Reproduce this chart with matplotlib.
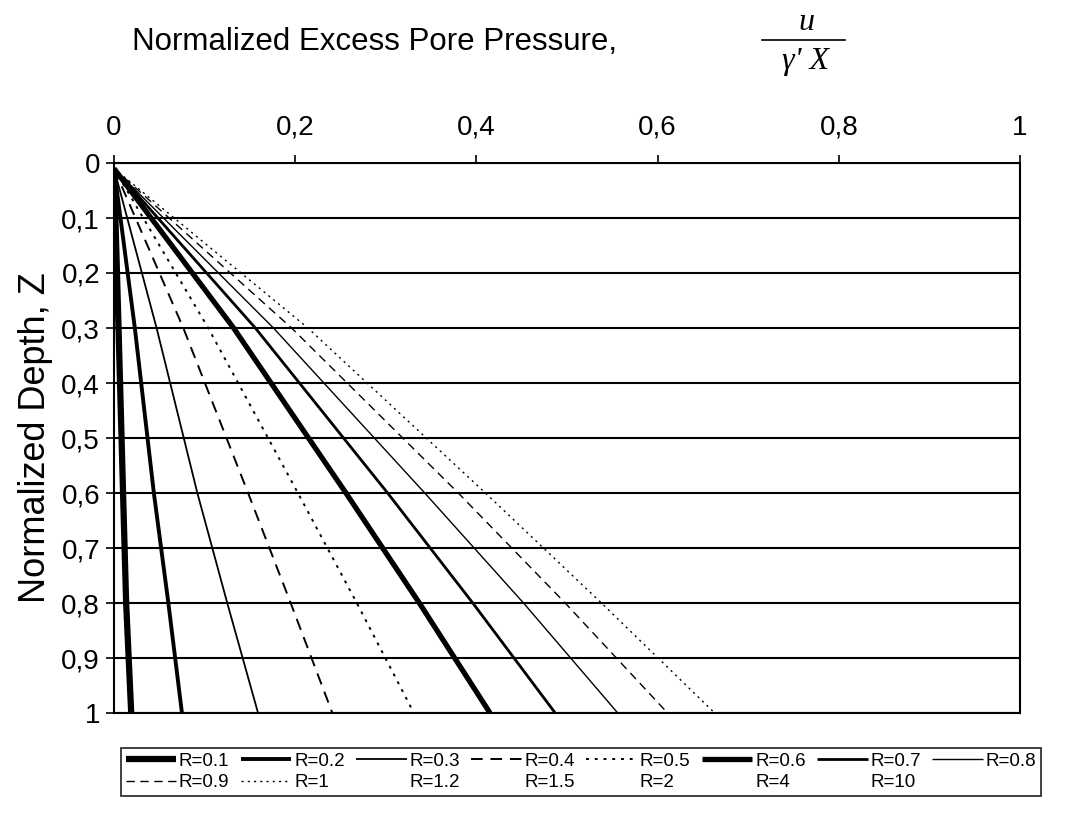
import numpy as np
import matplotlib
matplotlib.use("Agg")
import matplotlib.pyplot as plt
from matplotlib.lines import Line2D

plt.rcParams['font.family'] = ['Liberation Sans', 'DejaVu Sans']

depth = [0.01, 0.3, 0.6, 0.8, 1.0]

# normalized excess pore pressure for each R
u_01 = [0.0, 0.005, 0.010, 0.0134, 0.019]
u_02 = [0.0, 0.023, 0.044, 0.060, 0.075]
u_03 = [0.0, 0.047, 0.092, 0.125, 0.159]
u_04 = [0.0, 0.0765, 0.148, 0.195, 0.241]
u_05 = [0.0, 0.104, 0.203, 0.268, 0.331]
u_06 = [0.0, 0.132, 0.256, 0.337, 0.415]
u_07 = [0.0, 0.156, 0.302, 0.396, 0.487]
u_08 = [0.0, 0.176, 0.343, 0.452, 0.556]
u_09 = [0.0, 0.196, 0.380, 0.498, 0.611]
u_10 = [0.0, 0.214, 0.410, 0.538, 0.663]

labels = ["R=0.1", "R=0.2", "R=0.3", "R=0.4", "R=0.5", "R=0.6", "R=0.7", "R=0.8",
          "R=0.9", "R=1"]
labels_nolines = ["R=1.2", "R=1.5", "R=2", "R=4", "R=10"]
series = [u_01, u_02, u_03, u_04, u_05, u_06, u_07, u_08, u_09, u_10]

# line styles (width, dash)
styles = [
    (4.5, '-'),
    (2.8, '-'),
    (1.3, '-'),
    (1.4, (0, (6, 4))),
    (1.4, (0, (1.5, 3))),
    (3.8, '-'),
    (2.0, '-'),
    (1.0, '-'),
    (1.0, (0, (6, 4))),
    (1.0, (0, (1.5, 3))),
]

x_ticks = [0, 0.2, 0.4, 0.6, 0.8, 1]
y_ticks = [0, 0.1, 0.2, 0.3, 0.4, 0.5, 0.6, 0.7, 0.8, 0.9, 1]

W, H = 1076, 813
fig = plt.figure(figsize=(W / 100, H / 100), dpi=100)
ax = fig.add_axes([114 / W, 1 - 713 / H, (1020 - 114) / W, (713 - 163) / H])

handles = []
for u, lab, (lw, ls) in zip(series, labels, styles):
    h, = ax.plot(u, depth, color='black', lw=lw, linestyle=ls, label=lab,
                 solid_capstyle='butt')
    handles.append(h)
for lab in labels_nolines:
    handles.append(Line2D([], [], color='none', lw=1, label=lab))

ax.set_xlim(0, 1)
ax.set_ylim(1, 0)
ax.xaxis.tick_top()
ax.set_xticks(x_ticks)
ax.set_yticks(y_ticks)
ax.set_xticklabels([f"{t:g}".replace('.', ',') for t in x_ticks])
ax.set_yticklabels([f"{t:g}".replace('.', ',') for t in y_ticks])
ax.tick_params(axis='both', labelsize=20, length=6, width=1.2, direction='out',
               color='black', pad=4)
ax.tick_params(axis='x', pad=10)
for t in y_ticks:
    ax.axhline(t, color='black', lw=1.5, zorder=0)
for s in ax.spines.values():
    s.set_linewidth(1.5)

ax.set_ylabel("Normalized Depth, Z", fontsize=26, labelpad=6)

fig.text(375 / W, 1 - 42 / H, "Normalized Excess Pore Pressure,", fontsize=22.5,
         ha='center', va='center')
# fraction u / (gamma' X)
fig.text(806 / W, 1 - 22 / H, "u", fontsize=23, family='Liberation Serif',
         style='italic', ha='center', va='center')
fig.add_artist(Line2D([762 / W, 845 / W], [1 - 40 / H, 1 - 40 / H],
                      color='black', lw=1.2, transform=fig.transFigure))
fig.text(806 / W, 1 - 61 / H, "γ' X", fontsize=23, family='Liberation Serif',
         style='italic', ha='center', va='center')

# legend laid out row by row: 8 columns, 2 rows
order = []
for c in range(7):
    order += [c, 8 + c]
order.append(7)
leg = fig.legend([handles[i] for i in order], [handles[i].get_label() for i in order],
                 ncol=8, loc='center', bbox_to_anchor=(581 / W, 1 - 772 / H),
                 fontsize=13.5, frameon=True, fancybox=False, edgecolor='black',
                 handlelength=2.7, handletextpad=0.15, columnspacing=0.6,
                 labelspacing=0.25, borderpad=0.25, borderaxespad=0)
leg.get_frame().set_linewidth(1.3)

fig.savefig("out.png", dpi=100)
